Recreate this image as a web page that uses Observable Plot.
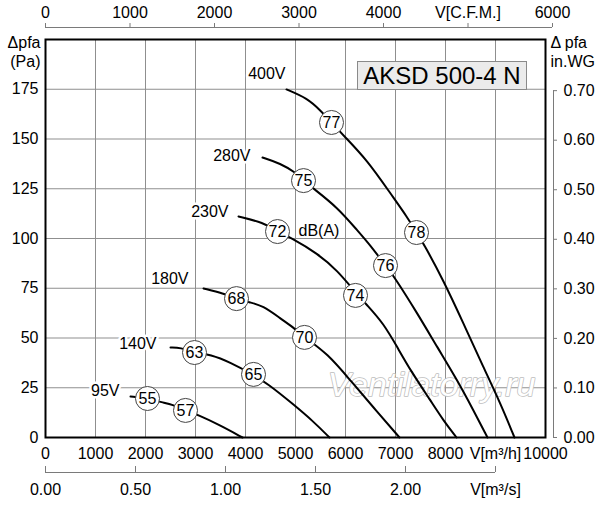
<!DOCTYPE html>
<html><head><meta charset="utf-8">
<script src="https://cdn.jsdelivr.net/npm/d3@7"></script>
<script src="https://cdn.jsdelivr.net/npm/@observablehq/plot@0.6"></script>
<style>
body{margin:0;background:#fff;}
#wrap{position:relative;width:600px;height:505px;}
#wrap svg{display:block;}
#title{position:absolute;left:357px;top:61px;width:168px;height:27px;background:#ebebeb;border:1px solid #8a8a8a;
 font:24px "Liberation Sans",Arial,sans-serif;text-align:center;line-height:28px;color:#000;}
</style></head><body>
<div id="wrap"><div id="title">AKSD 500-4 N</div></div>
<script>
// ---- data ----
const speeds = ["400V","280V","230V","180V","140V","95V"];
const flow400 = [4820,5240,5500,5720,5960,6440,6900,7240,7420,7560,7960,8360,8760,9100,9380];
const pa400   = [174.9,170.4,164.3,158.3,151.8,139.2,122.6,110.6,103.0,97.5,78.9,57.3,35.2,17.1,0];
const flow280 = [4340,4700,5000,5160,5360,5840,6240,6500,6800,6960,7440,7840,8240,8560,8840];
const pa280   = [140.7,137.7,133.2,129.1,125.1,115.6,104.0,96.5,86.4,81.4,62.3,45.2,28.6,13.6,0];
const flow230 = [3860,4360,4640,4900,5440,5840,6200,6440,6760,7040,7300,7700,7960,8220];
const pa230   = [111.1,108.0,103.5,100.5,92.5,83.9,72.9,66.3,57.3,45.2,33.7,18.6,8.5,0];
const flow180 = [3160,3560,3820,4100,4340,4700,4960,5180,5640,6100,6560,7080];
const pa180   = [74.9,72.4,69.8,67.8,66.3,59.8,55.3,50.3,42.2,28.6,15.1,0];
const flow140 = [2500,2700,2980,3300,3700,4140,4440,4960,5360,5680];
const pa140   = [45.2,45.2,42.7,41.7,37.7,31.7,27.1,16.6,8.0,0];
const flow95  = [1700,2040,2340,2540,2780,3040,3500,3940];
const pa95    = [20.6,19.6,17.6,16.6,13.6,11.6,6.0,0];
const flows = [flow400,flow280,flow230,flow180,flow140,flow95];
const pressures = [pa400,pa280,pa230,pa180,pa140,pa95];

// noise levels dB(A) on the curves
const dbValues = [77,78,75,76,72,74,68,70,63,65,55,57];
const dbFlow   = [5720,7420,5160,6800,4640,6200,3820,5180,2980,4160,2040,2800];
const dbPa     = [158.3,103.0,129.1,86.4,103.5,71.4,69.8,50.3,42.7,31.7,19.6,13.6];

// axes
const mhTicks   = [0,1000,2000,3000,4000,5000,6000,7000,8000,9000,10000];
const paTicks   = [0,25,50,75,100,125,150,175,200];
const paLabels  = [0,25,50,75,100,125,150,175];
const cfmTicks  = [0,1000,2000,3000,4000,5000,6000];
const m3sTicks  = [0,0.5,1.0,1.5,2.0,2.5];
const inwgTicks = [0,0.1,0.2,0.3,0.4,0.5,0.6,0.7];

// unit conversions
const M3H_PER_CFM = 1.69;
const M3H_PER_M3S = 3600;
const PA_PER_INWG = 249;

// label offsets (px) from each curve's first point
const labelDx = [-1,-12,-10,-15,-14,-11];
const labelDy = [-16,-2,-5,-10,-4,-6];

const rows = speeds.flatMap((s,i)=>flows[i].map((f,j)=>({speed:s, flow:f, pa:pressures[i][j]})));
const dbRows = dbValues.map((d,i)=>({db:d, flow:dbFlow[i], pa:dbPa[i]}));

const font = '"Liberation Sans", Arial, Helvetica, sans-serif';
const axisGray = "#7a7a7a";

const labelMarks = speeds.map((s,i)=>Plot.text([s], {
  x: ()=>flows[i][0], y: ()=>pressures[i][0], text: d=>d,
  textAnchor:"end", dx: labelDx[i], dy: labelDy[i], fontSize:16,
  fill:"black", stroke:"white", strokeWidth:5
}));

const plot = Plot.plot({
  width:600, height:505,
  marginLeft:45, marginRight:55, marginTop:39, marginBottom:68,
  x:{domain:[0,10000], axis:null},
  y:{domain:[0,200], axis:null},
  style:{fontFamily:font, fontSize:"16px", background:"white", color:"black", overflow:"visible"},
  marks:[
    // grid
    Plot.ruleX(mhTicks.slice(1,-1), {x:d=>d, stroke:"#8f8f8f", strokeWidth:1, strokeOpacity:1}),
    Plot.ruleY(paTicks.slice(1,-1), {y:d=>d, stroke:"#8f8f8f", strokeWidth:1, strokeOpacity:1}),
    // watermark
    Plot.text(["Ventilatorry.ru"], {frameAnchor:"bottom-right", dx:-10, dy:-42, textAnchor:"end",
      fontSize:34, fontStyle:"italic", fill:"white", stroke:"#bdbdbd", strokeWidth:1.5}),
    // curves
    Plot.line(rows, {x:"flow", y:"pa", z:"speed", stroke:"black", strokeWidth:2, curve:"basis"}),
    ...labelMarks,
    // dB circles
    Plot.dot(dbRows, {x:"flow", y:"pa", r:12, fill:"white", stroke:"#444", strokeWidth:1}),
    Plot.text(dbRows, {x:"flow", y:"pa", text:d=>String(d.db), fontSize:16, fill:"black"}),
    Plot.text(["dB(A)"], {x:()=>dbFlow[4], y:()=>dbPa[4], text:d=>d, dx:21, dy:-1, textAnchor:"start", fontSize:16}),
    // frame
    Plot.frame({stroke:"black", strokeWidth:2}),
    // left axis labels
    Plot.text(paLabels, {x:0, y:d=>d, text:d=>String(d), textAnchor:"end", dx:-7, fontSize:16}),
    Plot.text(["Δpfa\n(Pa)"], {x:0, y:200, text:d=>d, textAnchor:"end", dx:-5, dy:12, lineHeight:1.2, fontSize:16}),
    // right axis (in.WG)
    Plot.ruleX([10000], {x:d=>d, y1:0, y2:0.7*PA_PER_INWG, dx:8, stroke:axisGray}),
    Plot.ruleY(inwgTicks, {y:d=>d*PA_PER_INWG, x1:10000, x2:10080, dx:8, stroke:axisGray}),
    Plot.text(inwgTicks, {x:10000, y:d=>d*PA_PER_INWG, text:d=>d.toFixed(2), textAnchor:"start", dx:18, fontSize:16}),
    Plot.text(["Δ pfa\nin.WG"], {x:10000, y:200, text:d=>d, textAnchor:"start", dx:5, dy:12, lineHeight:1.2, fontSize:16}),
    // bottom m³/h labels
    Plot.text(mhTicks, {x:d=>d, y:0, dy:16, text:d=>d===9000?"V[m³/h]":String(d), fontSize:16}),
    // bottom m³/s axis
    Plot.ruleY([0], {x1:0, x2:2.5*M3H_PER_M3S, dy:35, stroke:axisGray}),
    Plot.ruleX(m3sTicks, {x:d=>d*M3H_PER_M3S, y1:0, y2:3, dy:35, stroke:axisGray}),
    Plot.text(m3sTicks, {x:d=>d*M3H_PER_M3S, y:0, dy:52, text:d=>d===2.5?"V[m³/s]":d.toFixed(2), fontSize:16}),
    // top CFM axis
    Plot.ruleY([200], {x1:0, x2:6000*M3H_PER_CFM, dy:-12, stroke:axisGray}),
    Plot.ruleX(cfmTicks, {x:d=>d*M3H_PER_CFM, y1:200, y2:202, dy:-12, stroke:axisGray}),
    Plot.text(cfmTicks, {x:d=>d*M3H_PER_CFM, y:200, dy:-27, text:d=>d===5000?"V[C.F.M.]":String(d), fontSize:16})
  ]
});
document.getElementById("wrap").insertBefore(plot, document.getElementById("title"));
</script>
</body></html>
